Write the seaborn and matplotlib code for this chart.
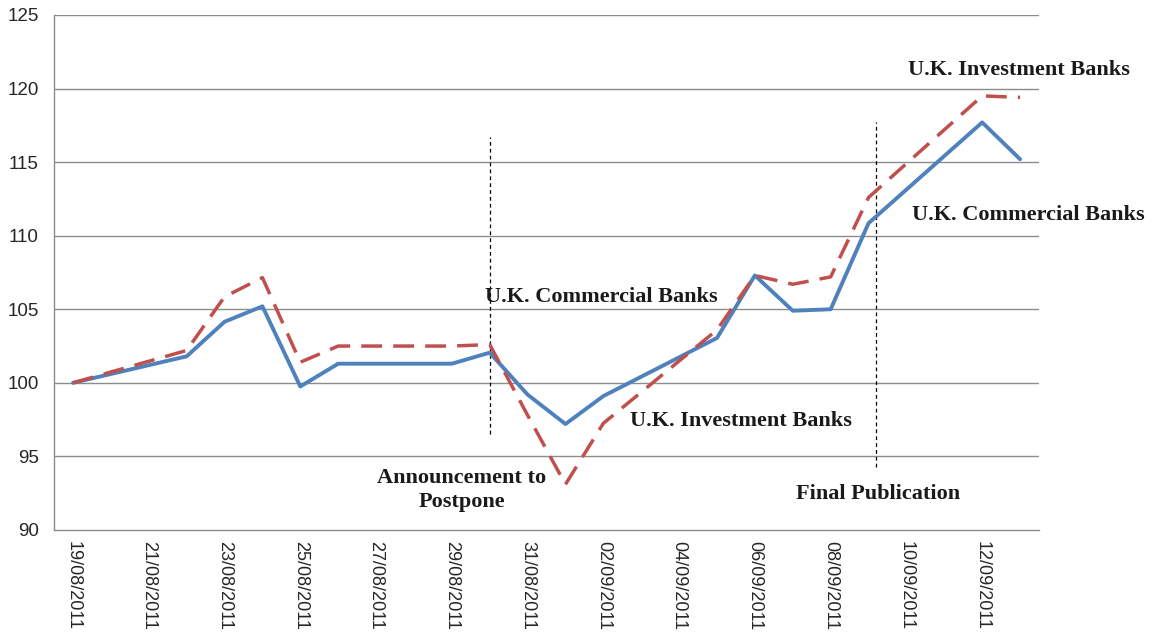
import numpy as np
import pandas as pd
import matplotlib
matplotlib.use("Agg")
import matplotlib.pyplot as plt
import seaborn as sns

# Trading days shown in the chart (weekends / bank holiday are skipped and joined)
trade_dates = ["19/08/2011", "22/08/2011", "23/08/2011", "24/08/2011", "25/08/2011",
               "26/08/2011", "29/08/2011", "30/08/2011", "31/08/2011", "01/09/2011",
               "02/09/2011", "05/09/2011", "06/09/2011", "07/09/2011", "08/09/2011",
               "09/09/2011", "12/09/2011", "13/09/2011"]
commercial = [100.0, 101.8, 104.15, 105.2, 99.75, 101.3, 101.3, 102.05, 99.2, 97.2,
              99.1, 103.05, 107.3, 104.9, 105.0, 110.85, 117.7, 115.2]
investment = [100.0, 102.2, 105.85, 107.15, 101.4, 102.5, 102.5, 102.6, 97.8, 93.1,
              97.25, 103.6, 107.3, 106.7, 107.2, 112.6, 119.5, 119.4]

# Category axis labels (every second calendar day)
tick_labels = ["19/08/2011", "21/08/2011", "23/08/2011", "25/08/2011", "27/08/2011",
               "29/08/2011", "31/08/2011", "02/09/2011", "04/09/2011", "06/09/2011",
               "08/09/2011", "10/09/2011", "12/09/2011"]
n_days = 26

# Event markers
announce_day = "30/08/2011"
final_pub_x = 21.2

start = pd.to_datetime(trade_dates[0], dayfirst=True)
day_idx = [(pd.to_datetime(d, dayfirst=True) - start).days for d in trade_dates]
tick_pos = [(pd.to_datetime(d, dayfirst=True) - start).days for d in tick_labels]

df = pd.DataFrame({"day": day_idx, "commercial": commercial, "investment": investment})

sns.set_style("white")
plt.rcParams["font.family"] = ["Liberation Sans", "DejaVu Sans"]

fig = plt.figure(figsize=(11.6, 6.35), dpi=100)
ax = fig.add_axes([0.0466, 0.1654, 0.8491, 0.811])

grid_c = "#8c8c8c"
for v in [95, 100, 105, 110, 115, 120, 125]:
    ax.axhline(v, color=grid_c, lw=1.0, zorder=0)

sns.lineplot(data=df, x="day", y="commercial", ax=ax, color="#4F81BD", lw=2.8,
             zorder=3)
sns.lineplot(data=df, x="day", y="investment", ax=ax, color="#C0504D", lw=2.5,
             linestyle=(0, (6, 3.2)), zorder=4)

ann_x = (pd.to_datetime(announce_day, dayfirst=True) - start).days
ax.plot([ann_x, ann_x], [96.5, 116.7], color="black", lw=0.9,
        linestyle=(0, (3, 2.5)), zorder=2)
ax.plot([final_pub_x, final_pub_x], [94.3, 117.7], color="black", lw=0.9,
        linestyle=(0, (3, 2.5)), zorder=2)

ax.set_xlim(-0.5, n_days - 0.5)
ax.set_ylim(90, 125)
ax.set_yticks(np.arange(90, 126, 5))
ax.set_xticks(tick_pos)
ax.set_xticklabels(tick_labels, rotation=-90, fontsize=13)
ax.set_xticks(np.arange(-0.5, n_days, 2), minor=True)
ax.tick_params(axis="x", which="major", length=0, pad=8)
ax.tick_params(axis="x", which="minor", length=5, color=grid_c, width=1)
ax.tick_params(axis="y", length=5, color=grid_c, width=1, labelsize=13.5, pad=6)
ax.set_xlabel("")
ax.set_ylabel("")

for s in ["top", "right"]:
    ax.spines[s].set_visible(False)
for s in ["left", "bottom"]:
    ax.spines[s].set_color(grid_c)
    ax.spines[s].set_linewidth(1.0)

serif = ["Liberation Serif", "DejaVu Serif"]
tkw = dict(family=serif, fontweight="bold", fontsize=16, color="#1a1a1a")
ax.text(10.87, 105.8, "U.K. Commercial Banks", ha="left", va="center", **tkw)
ax.text(14.7, 97.4, "U.K. Investment Banks", ha="left", va="center", **tkw)
ax.text(10.27, 92.7, "Announcement to\nPostpone", ha="center", va="center",
        multialignment="center", linespacing=1.25, **tkw)
ax.text(19.08, 92.45, "Final Publication", ha="left", va="center", **tkw)
ax.text(22.03, 121.25, "U.K. Investment Banks", ha="left", va="center", **tkw)
ax.text(22.14, 111.4, "U.K. Commercial Banks", ha="left", va="center", **tkw)

fig.savefig("out.png", dpi=100, facecolor="white")
